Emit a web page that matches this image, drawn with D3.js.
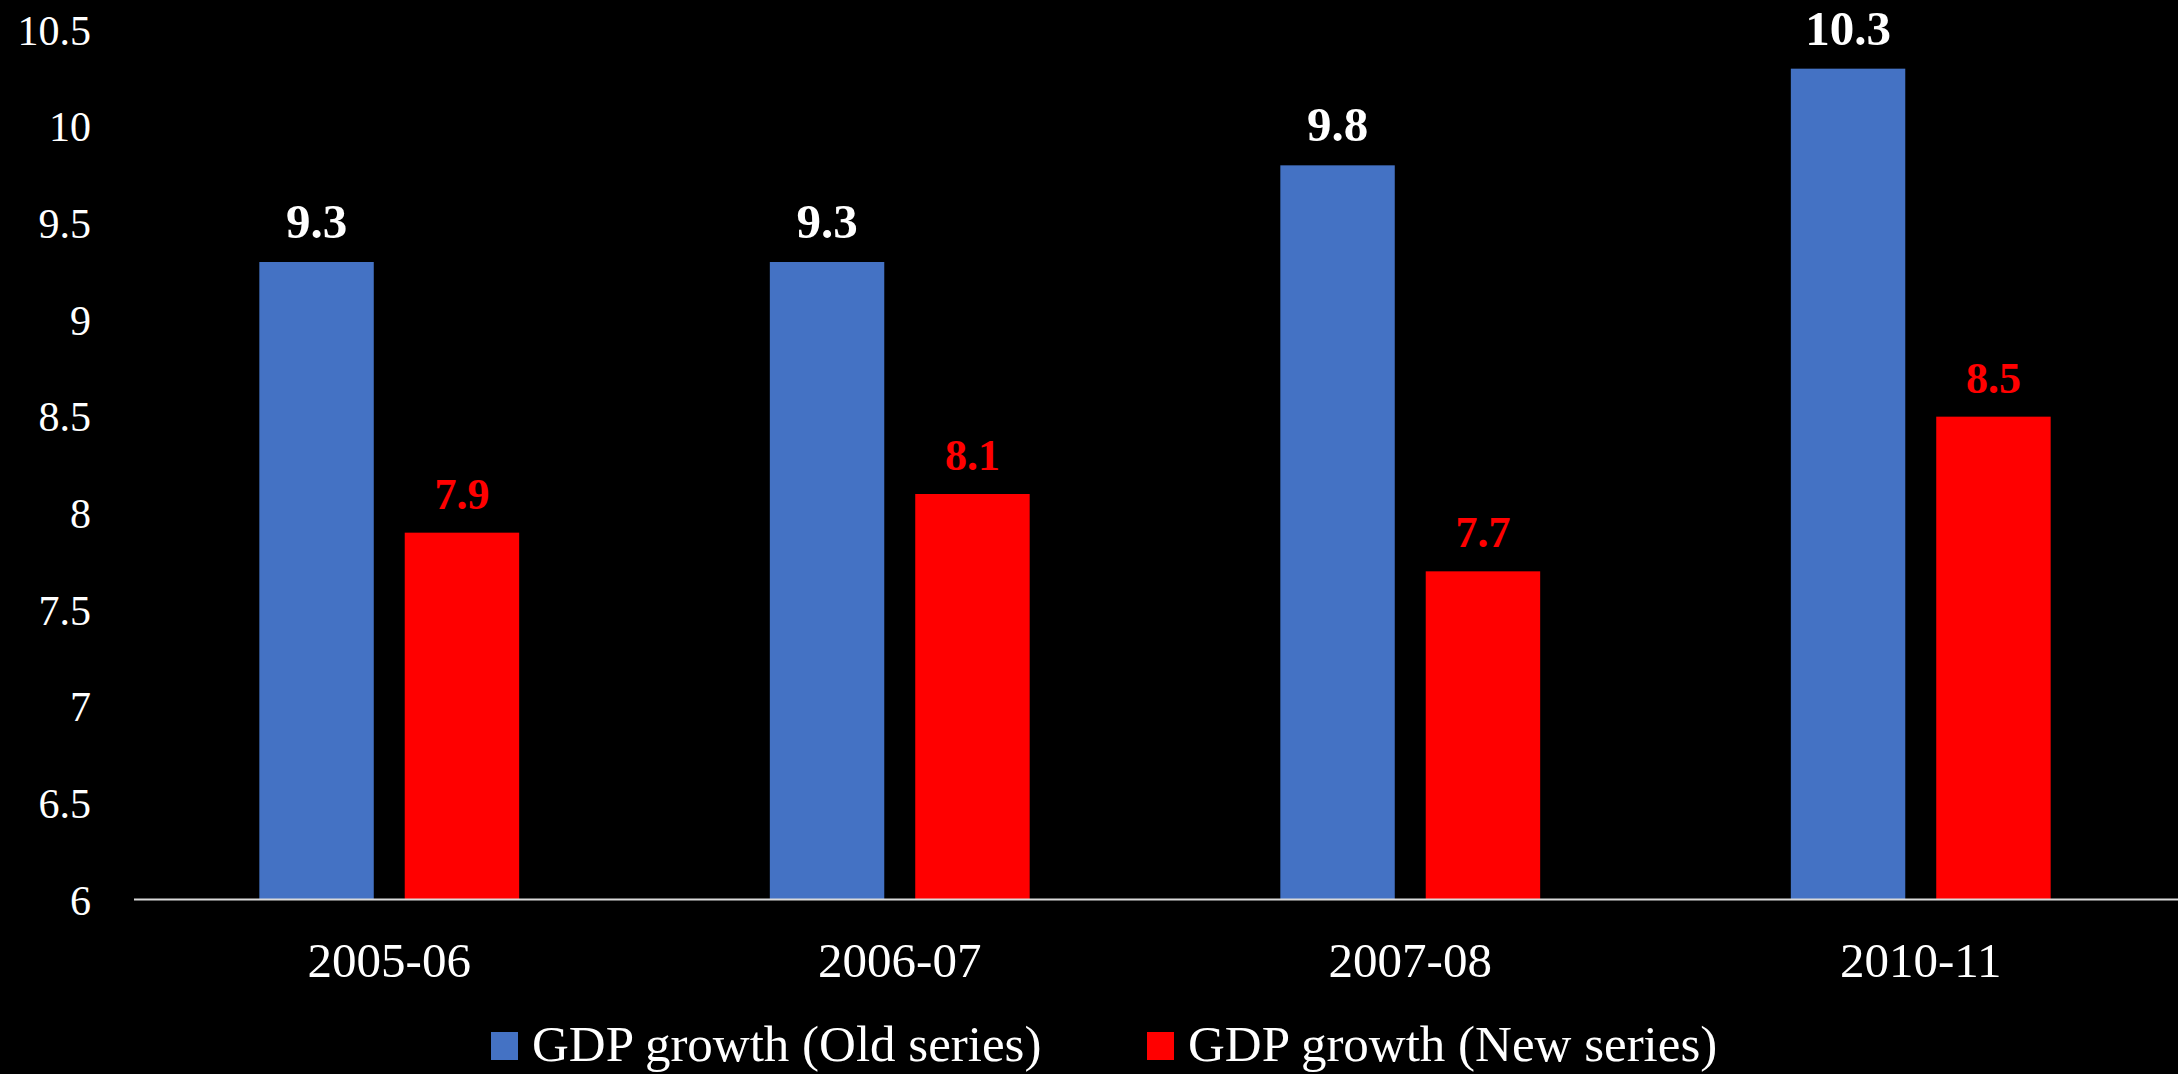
<!DOCTYPE html>
<html>
<head>
<meta charset="utf-8">
<script src="https://cdn.jsdelivr.net/npm/d3@7"></script>
<style>
  html, body { margin: 0; padding: 0; background: #000; }
  svg { display: block; }
  text { font-family: "Liberation Serif", "Times New Roman", serif; }
</style>
</head>
<body>
<svg id="chart" width="2178" height="1074"></svg>
<script>
// Fiscal years on the x axis
const categories = ["2005-06", "2006-07", "2007-08", "2010-11"];
// Series names as shown in the legend
const seriesNames = ["GDP growth (Old series)", "GDP growth (New series)"];
// Growth rates (%) per year
const oldSeries = [9.3, 9.3, 9.8, 10.3];
const newSeries = [7.9, 8.1, 7.7, 8.5];
// Y axis tick values
const yTicks = [6, 6.5, 7, 7.5, 8, 8.5, 9, 9.5, 10, 10.5];

const colors = ["#4472C4", "#FF0000"];
const labelColors = ["#FFFFFF", "#FF0000"];
const labelSizes = [49, 44];

const W = 2178, H = 1074;
const svg = d3.select("#chart");
svg.append("rect").attr("width", W).attr("height", H).attr("fill", "#000");

const plot = { left: 134, right: 2176, top: 30, bottom: 900 };

const x0 = d3.scaleBand()
  .domain(categories)
  .range([plot.left, plot.right])
  .paddingInner(0.491)
  .paddingOuter(0.2455);

const x1 = d3.scaleBand()
  .domain([0, 1])
  .range([0, x0.bandwidth()])
  .paddingInner(0.213)
  .paddingOuter(0);

const y = d3.scaleLinear()
  .domain([6, 10.5])
  .range([plot.bottom, plot.top]);

// Y axis labels only (no axis line, no tick marks)
const yAxis = d3.axisLeft(y)
  .tickValues(yTicks)
  .tickFormat(d => String(d))
  .tickSize(0)
  .tickPadding(0);

const yg = svg.append("g")
  .attr("transform", "translate(91,0)")
  .call(yAxis);
yg.select(".domain").remove();
yg.selectAll("text")
  .attr("fill", "#FFFFFF")
  .attr("font-size", 42)
  .attr("font-family", "Liberation Serif, serif")
  .attr("dy", "0.34em");

// Bars
const rows = categories.map((c, i) => ({ cat: c, values: [oldSeries[i], newSeries[i]] }));

const groups = svg.append("g").selectAll("g")
  .data(rows)
  .join("g")
  .attr("transform", d => `translate(${x0(d.cat)},0)`);

groups.selectAll("rect")
  .data(d => d.values.map((v, s) => ({ v, s })))
  .join("rect")
  .attr("x", d => x1(d.s))
  .attr("width", x1.bandwidth())
  .attr("y", d => y(d.v))
  .attr("height", d => y(6) - y(d.v))
  .attr("fill", d => colors[d.s]);

// Value labels above the bars
groups.selectAll("text")
  .data(d => d.values.map((v, s) => ({ v, s })))
  .join("text")
  .attr("x", d => x1(d.s) + x1.bandwidth() / 2)
  .attr("y", d => y(d.v) - 24)
  .attr("text-anchor", "middle")
  .attr("font-weight", "bold")
  .attr("font-size", d => labelSizes[d.s])
  .attr("fill", d => labelColors[d.s])
  .text(d => d3.format(".1f")(d.v));

// X axis baseline and category labels
const xAxis = d3.axisBottom(x0).tickSize(0).tickPadding(0);
const xg = svg.append("g")
  .attr("transform", `translate(0,${plot.bottom})`)
  .call(xAxis);
xg.select(".domain")
  .attr("stroke", "#D9D9D9")
  .attr("stroke-width", 2)
  .attr("d", `M${plot.left},-0.5H${W}`);
xg.selectAll("text")
  .attr("fill", "#FFFFFF")
  .attr("font-size", 49)
  .attr("font-family", "Liberation Serif, serif")
  .attr("dy", 0)
  .attr("y", 77);

// Legend
const legendX = [491, 1147];
const legend = svg.append("g").selectAll("g")
  .data(seriesNames)
  .join("g")
  .attr("transform", (d, i) => `translate(${legendX[i]},1032)`);
legend.append("rect")
  .attr("width", 27)
  .attr("height", 28)
  .attr("fill", (d, i) => colors[i]);
legend.append("text")
  .attr("x", 41)
  .attr("y", 29)
  .attr("font-size", 51)
  .attr("fill", "#FFFFFF")
  .text(d => d);
</script>
</body>
</html>
